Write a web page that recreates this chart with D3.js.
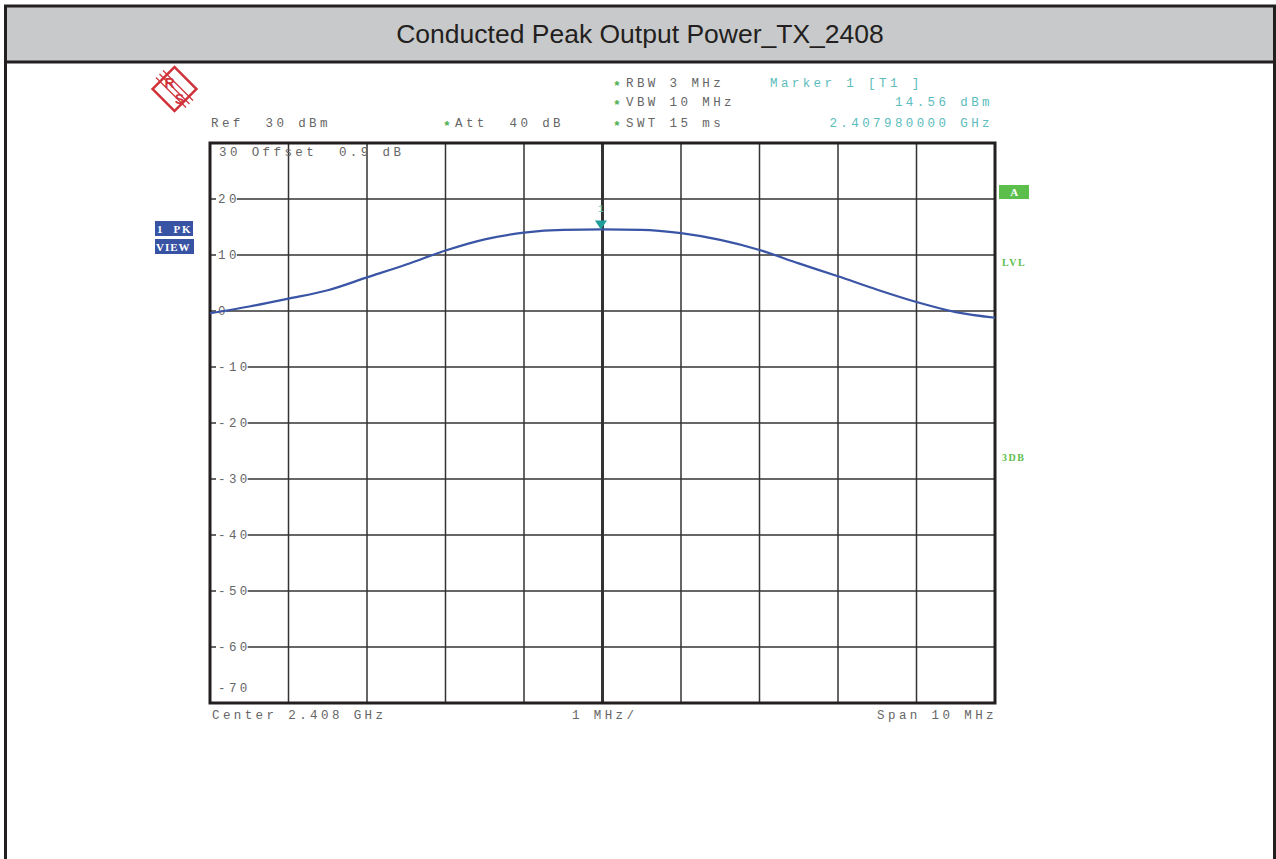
<!DOCTYPE html>
<html>
<head>
<meta charset="utf-8">
<script src="https://cdn.jsdelivr.net/npm/d3@7"></script>
<style>
  body { margin: 0; background: #fff; }
  svg { display: block; }
  .mono { font-family: "Liberation Mono", "DejaVu Sans Mono", monospace; font-size: 12.5px; letter-spacing: 3.4px; }
</style>
</head>
<body>
<svg id="chart" width="1276" height="859"></svg>
<script>
"use strict";

// trace: frequency (GHz) and level (dBm)
var freqGHz = [2.4030, 2.4035, 2.4040, 2.4045, 2.4050, 2.4055, 2.4060, 2.4065, 2.4070, 2.4075,
    2.4080, 2.4085, 2.4090, 2.4095, 2.4100, 2.4105, 2.4110, 2.4115, 2.4120, 2.4125, 2.4130];
var levelDbm = [-0.4, 0.8, 2.2, 3.7, 6.0, 8.3, 10.8, 12.8, 14.0, 14.5,
    14.56, 14.5, 13.9, 12.7, 10.9, 8.5, 6.2, 3.8, 1.6, -0.2, -1.2];

var yTicks = [20, 10, 0, -10, -20, -30, -40, -50, -60];
var markerFreq = 2.40798;
var markerLevel = 14.56;

var TITLE = "Conducted Peak Output Power_TX_2408";

var svg = d3.select("#chart");

// outer frame + header
svg.append("rect").attr("x", 5.5).attr("y", 6).attr("width", 1269).attr("height", 56)
    .attr("fill", "#c8c9ca");
svg.append("path")
    .attr("d", "M5.5,859 V6 H1274.5 V859 M5.5,62 H1274.5")
    .attr("fill", "none").attr("stroke", "#231f20").attr("stroke-width", 3);
svg.append("text").attr("x", 640).attr("y", 43).attr("text-anchor", "middle")
    .style("font-family", "Liberation Sans, Arial, sans-serif").style("font-size", "26.5px")
    .attr("fill", "#231f20").text(TITLE);

// plot area
var plot = { left: 210, right: 995, top: 143, bottom: 703 };
var x = d3.scaleLinear().domain([2.403, 2.413]).range([plot.left, plot.right]);
var y = d3.scaleLinear().domain([-70, 30]).range([plot.bottom, plot.top]);

var grid = svg.append("g").attr("class", "grid");
grid.selectAll("line.v")
    .data(d3.range(1, 10))
    .enter().append("line")
    .attr("class", "v")
    .attr("x1", function(d) { return x(2.403 + d * 0.001); })
    .attr("x2", function(d) { return x(2.403 + d * 0.001); })
    .attr("y1", plot.top).attr("y2", plot.bottom)
    .attr("stroke", "#333").attr("stroke-width", function(d) { return d == 5 ? 3 : 1.5; });
grid.selectAll("line.h")
    .data(yTicks)
    .enter().append("line")
    .attr("class", "h")
    .attr("x1", plot.left).attr("x2", plot.right)
    .attr("y1", function(d) { return y(d); })
    .attr("y2", function(d) { return y(d); })
    .attr("stroke", "#333").attr("stroke-width", 1.5);

// mono text helper, keeps the double spaces
function monoText(parent, xp, yp, color, str) {
    return parent.append("text").attr("x", xp).attr("y", yp)
        .attr("xml:space", "preserve").attr("fill", color).text(str);
}

// y labels sitting on the grid lines
var labels = svg.append("g").attr("class", "mono");
yTicks.forEach(function(t) {
    var g = labels.append("g");
    var txt = monoText(g, 218, y(t) + 4, "#666", t);
    var bb = txt.node().getBBox();
    g.insert("rect", "text").attr("x", 216).attr("y", y(t) - 2)
        .attr("width", bb.width - 1).attr("height", 4).attr("fill", "#fff");
});
monoText(labels, 218, plot.bottom - 11, "#666", "-70");

// frame
svg.append("rect").attr("x", plot.left).attr("y", plot.top)
    .attr("width", plot.right - plot.left).attr("height", plot.bottom - plot.top)
    .attr("fill", "none").attr("stroke", "#231f20").attr("stroke-width", 3);

monoText(labels, 219, 156, "#666", "30 Offset  0.9 dB");

// trace
var line = d3.line()
    .x(function(d, i) { return x(freqGHz[i]); })
    .y(function(d) { return y(d); })
    .curve(d3.curveMonotoneX);
svg.append("path").datum(levelDbm)
    .attr("d", line)
    .attr("fill", "none").attr("stroke", "#3a55a5").attr("stroke-width", 2.2);

// marker
var mx = x(markerFreq), my = y(markerLevel);
svg.append("path")
    .attr("d", "M" + (mx - 6) + "," + (my - 9) + " L" + (mx + 6) + "," + (my - 9) + " L" + mx + "," + my + " Z")
    .attr("fill", "#1f9e9a");
svg.append("text").attr("x", mx).attr("y", my - 17).attr("text-anchor", "middle")
    .style("font-family", "Liberation Mono, monospace").style("font-size", "10px")
    .attr("fill", "#5bbcbc").text("1");

// header texts
var info = svg.append("g").attr("class", "mono");
function star(xp, yp) {
    info.append("text").attr("x", xp).attr("y", yp).attr("fill", "#4caf50")
        .style("font-size", "13px").style("font-weight", "bold").text("*");
}
monoText(info, 211, 127, "#666", "Ref  30 dBm");
star(443, 130);
monoText(info, 455, 127, "#666", "Att  40 dB");
star(613, 90); star(613, 109); star(613, 130);
monoText(info, 626, 87, "#666", "RBW 3 MHz");
monoText(info, 626, 106, "#666", "VBW 10 MHz");
monoText(info, 626, 127, "#666", "SWT 15 ms");
monoText(info, 770, 87, "#5bbcbc", "Marker 1 [T1 ]");
monoText(info, 993, 106, "#5bbcbc", "14.56 dBm").attr("text-anchor", "end");
monoText(info, 993, 127, "#5bbcbc", "2.407980000 GHz").attr("text-anchor", "end");

monoText(info, 212, 719, "#666", "Center 2.408 GHz");
monoText(info, 572, 719, "#666", "1 MHz/");
monoText(info, 997, 719, "#666", "Span 10 MHz").attr("text-anchor", "end");

// side boxes
var side = svg.append("g").style("font-family", "Liberation Serif, DejaVu Serif, serif")
    .style("font-weight", "bold").style("font-size", "11px").style("letter-spacing", "1.8px");
svg.append("clipPath").attr("id", "pkclip").append("rect")
    .attr("x", 155).attr("y", 221).attr("width", 38).attr("height", 15);
side.append("rect").attr("x", 155).attr("y", 221).attr("width", 38).attr("height", 15).attr("fill", "#3953a4");
side.append("text").attr("x", 157).attr("y", 233).attr("fill", "#fff").attr("xml:space", "preserve")
    .attr("clip-path", "url(#pkclip)").text("1  PK");
side.append("rect").attr("x", 155).attr("y", 239).attr("width", 39).attr("height", 15).attr("fill", "#3953a4");
side.append("text").attr("x", 156).attr("y", 251).attr("fill", "#fff").style("letter-spacing", "1px").text("VIEW");

side.append("rect").attr("x", 999).attr("y", 185).attr("width", 30).attr("height", 14).attr("fill", "#5cbf4c");
side.append("text").attr("x", 1015).attr("y", 196).attr("text-anchor", "middle").attr("fill", "#fff").text("A");
side.append("text").attr("x", 1002).attr("y", 266).attr("fill", "#5cbf4c").style("font-size", "10px")
    .style("letter-spacing", "1.5px").text("LVL");
side.append("text").attr("x", 1002).attr("y", 461).attr("fill", "#5cbf4c").style("font-size", "10px")
    .style("letter-spacing", "1.5px").text("3DB");

// R&S logo
var logo = svg.append("g").attr("transform", "translate(174.5,89)");
logo.append("rect").attr("x", -15.5).attr("y", -15.5).attr("width", 31).attr("height", 31)
    .attr("transform", "rotate(45)").attr("fill", "none").attr("stroke", "#d0323a").attr("stroke-width", 2.5);
[-3.5, 0, 3.5].forEach(function(o) {
    logo.append("line").attr("x1", -15 + o).attr("y1", -15 - o).attr("x2", 15 + o).attr("y2", 15 - o)
        .attr("stroke", "#d0323a").attr("stroke-width", 1.2);
});
logo.append("text").attr("x", -5).attr("y", -1).attr("text-anchor", "middle")
    .style("font-family", "Liberation Sans, sans-serif").style("font-size", "14px").style("font-weight", "bold")
    .attr("fill", "#d0323a").text("R");
logo.append("text").attr("x", 5).attr("y", 15).attr("text-anchor", "middle")
    .style("font-family", "Liberation Sans, sans-serif").style("font-size", "14px").style("font-weight", "bold")
    .attr("fill", "#d0323a").text("S");
</script>
</body>
</html>
